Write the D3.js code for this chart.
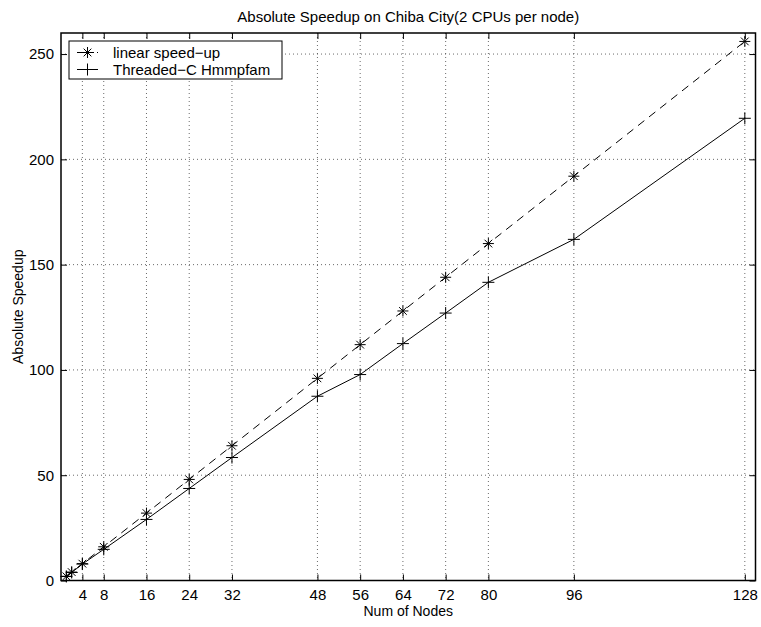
<!DOCTYPE html>
<html>
<head>
<meta charset="utf-8">
<title>Absolute Speedup</title>
<script src="https://cdn.jsdelivr.net/npm/d3@7/dist/d3.min.js"></script>
<style>
  body { margin: 0; background: #fff; }
  svg text { font-family: "Liberation Sans", Arial, Helvetica, sans-serif; fill: #000; }
</style>
</head>
<body>
<div id="chart"></div>
<script>
// data
var nodes = [1, 2, 4, 8, 16, 24, 32, 48, 56, 64, 72, 80, 96, 128];
var linearSpeedup = [2, 4, 8, 16, 32, 48, 64, 96, 112, 128, 144, 160, 192, 256];
var threadedSpeedup = [1.9, 3.8, 7.8, 14.8, 29, 43.7, 58.4, 87.5, 97.8, 112.5, 127, 141.6, 162, 219.5];
var xTicks = [4, 8, 16, 24, 32, 48, 56, 64, 72, 80, 96, 128];
var yTicks = [0, 50, 100, 150, 200, 250];
var seriesNames = ["linear speed\u2212up", "Threaded\u2212C Hmmpfam"];

var width = 761, height = 627;
var margin = {top: 33, right: 5.5, bottom: 46.5, left: 61};
var w = width - margin.left - margin.right,
    h = height - margin.top - margin.bottom;

var svg = d3.select('#chart').append('svg')
    .attr('width', width)
    .attr('height', height);

var g = svg.append('g')
    .attr('transform', 'translate(' + margin.left + ',' + margin.top + ')');

var x = d3.scaleLinear().domain([0, 130]).range([0, w]);
var y = d3.scaleLinear().domain([0, 260]).range([h, 0]);

// grid
g.selectAll('line.vgrid').data(xTicks).enter().append('line')
    .attr('class', 'vgrid')
    .attr('x1', function(d) { return x(d); }).attr('x2', function(d) { return x(d); })
    .attr('y1', 0).attr('y2', h)
    .attr('stroke', '#444').attr('stroke-width', 0.8).attr('stroke-dasharray', '1,3');
g.selectAll('line.hgrid').data(yTicks).enter().append('line')
    .attr('class', 'hgrid')
    .attr('x1', 0).attr('x2', w)
    .attr('y1', function(d) { return y(d); }).attr('y2', function(d) { return y(d); })
    .attr('stroke', '#444').attr('stroke-width', 0.8).attr('stroke-dasharray', '1,3');

// lines
var line = d3.line()
    .x(function(d) { return x(d[0]); })
    .y(function(d) { return y(d[1]); });

var linData = d3.zip(nodes, linearSpeedup);
var thrData = d3.zip(nodes, threadedSpeedup);

g.append('path').datum(linData)
    .attr('d', line).attr('fill', 'none')
    .attr('stroke', '#000').attr('stroke-width', 1)
    .attr('stroke-dasharray', '8,6');
g.append('path').datum(thrData)
    .attr('d', line).attr('fill', 'none')
    .attr('stroke', '#000').attr('stroke-width', 1);

// markers
function star(sel, s) {
    sel.append('path')
        .attr('d', 'M' + (-s) + ',0H' + s + 'M0,' + (-s) + 'V' + s +
            'M' + (-s * 0.7) + ',' + (-s * 0.7) + 'L' + (s * 0.7) + ',' + (s * 0.7) +
            'M' + (-s * 0.7) + ',' + (s * 0.7) + 'L' + (s * 0.7) + ',' + (-s * 0.7))
        .attr('stroke', '#000').attr('stroke-width', 1).attr('fill', 'none');
}
function plus(sel, s) {
    sel.append('path')
        .attr('d', 'M' + (-s) + ',0H' + s + 'M0,' + (-s) + 'V' + s)
        .attr('stroke', '#000').attr('stroke-width', 1).attr('fill', 'none');
}

g.selectAll('g.star').data(linData).enter().append('g')
    .attr('class', 'star')
    .attr('transform', function(d) { return 'translate(' + x(d[0]) + ',' + y(d[1]) + ')'; })
    .call(star, 5.5);
g.selectAll('g.plus').data(thrData).enter().append('g')
    .attr('class', 'plus')
    .attr('transform', function(d) { return 'translate(' + x(d[0]) + ',' + y(d[1]) + ')'; })
    .call(plus, 6);

// axes (inward ticks on all sides)
var tickLen = 6;
var xAxis = g.append('g').attr('transform', 'translate(0,' + h + ')')
    .call(d3.axisBottom(x).tickValues(xTicks).tickSizeInner(-tickLen).tickSizeOuter(0).tickPadding(9));
var xAxisTop = g.append('g')
    .call(d3.axisTop(x).tickValues(xTicks).tickSizeInner(-tickLen).tickSizeOuter(0).tickFormat(''));
var yAxis = g.append('g')
    .call(d3.axisLeft(y).tickValues(yTicks).tickSizeInner(-tickLen).tickSizeOuter(0).tickPadding(7));
var yAxisRight = g.append('g').attr('transform', 'translate(' + w + ',0)')
    .call(d3.axisRight(y).tickValues(yTicks).tickSizeInner(-tickLen).tickSizeOuter(0).tickFormat(''));

[xAxis, xAxisTop, yAxis, yAxisRight].forEach(function(a) {
    a.select('.domain').remove();
    a.selectAll('line').attr('stroke', '#000').attr('stroke-width', 1);
    a.selectAll('text').attr('font-size', 15).attr('font-family', '"Liberation Sans", Arial, sans-serif').attr('fill', '#000');
});

g.append('rect')
    .attr('x', 0).attr('y', 0).attr('width', w).attr('height', h)
    .attr('fill', 'none').attr('stroke', '#000').attr('stroke-width', 1.5);

// labels
svg.append('text')
    .attr('x', margin.left + w / 2).attr('y', 22)
    .attr('text-anchor', 'middle').attr('font-size', 15)
    .text('Absolute Speedup on Chiba City(2 CPUs per node)');
svg.append('text')
    .attr('x', margin.left + w / 2).attr('y', 616)
    .attr('text-anchor', 'middle').attr('font-size', 14)
    .text('Num of Nodes');
svg.append('text')
    .attr('transform', 'translate(23,' + (margin.top + h / 2) + ') rotate(-90)')
    .attr('text-anchor', 'middle').attr('font-size', 14)
    .text('Absolute Speedup');

// legend
var legend = svg.append('g').attr('transform', 'translate(69,41)');
legend.append('rect')
    .attr('width', 213).attr('height', 38)
    .attr('fill', '#fff').attr('stroke', '#000').attr('stroke-width', 1);

var legendRows = legend.selectAll('g.row').data(seriesNames).enter().append('g')
    .attr('class', 'row')
    .attr('transform', function(d, i) { return 'translate(0,' + (11.5 + i * 17) + ')'; });
legendRows.append('line')
    .attr('x1', 8).attr('x2', 29).attr('y1', 0).attr('y2', 0)
    .attr('stroke', '#000').attr('stroke-width', 1)
    .attr('stroke-dasharray', function(d, i) { return i === 0 ? '7,3' : null; });
legendRows.each(function(d, i) {
    var m = d3.select(this).append('g').attr('transform', 'translate(18.5,0)');
    if (i === 0) star(m, 5.5); else plus(m, 6);
});
legendRows.append('text')
    .attr('x', 44).attr('y', 5)
    .attr('font-size', 15)
    .text(function(d) { return d; });
</script>
</body>
</html>
